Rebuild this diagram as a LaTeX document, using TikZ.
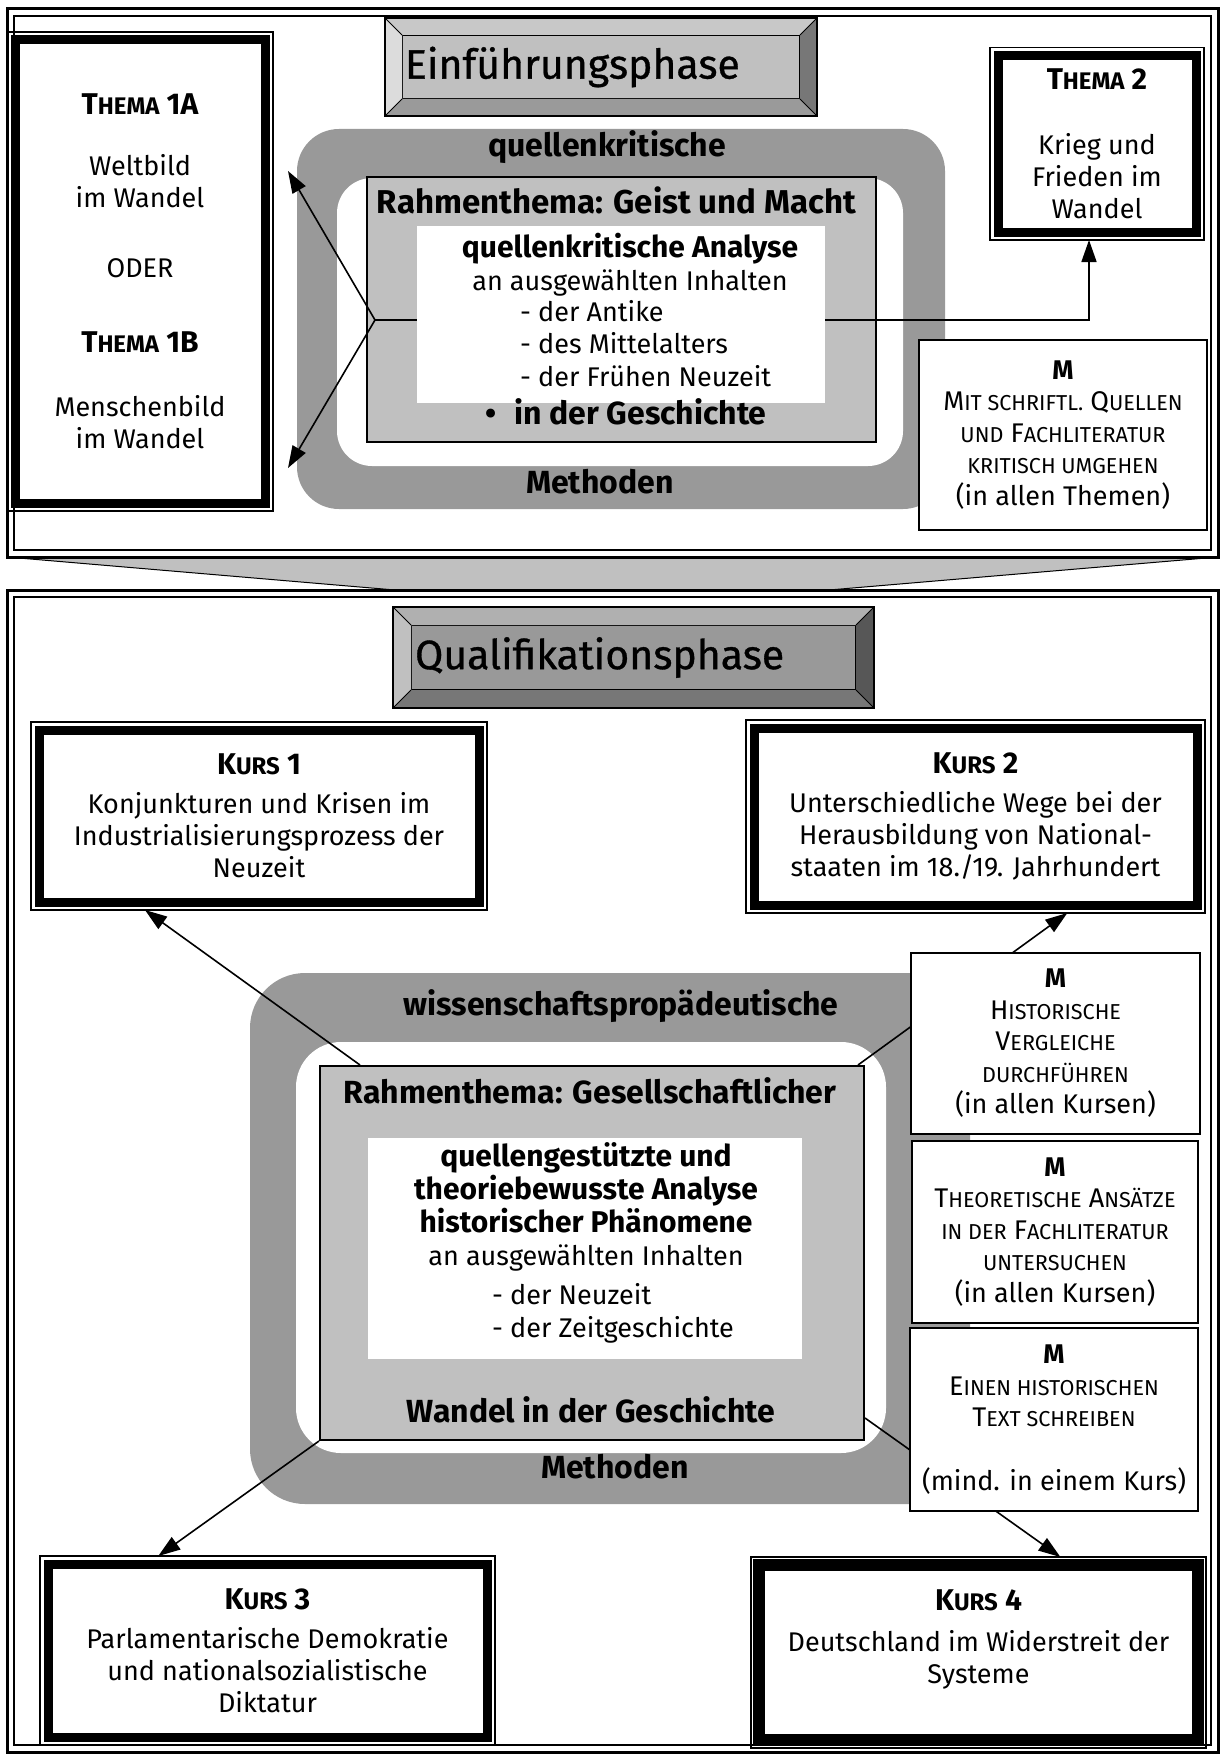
\documentclass[tikz,border=0pt]{standalone}
\usepackage{fontspec}
\setmainfont{Fira Sans}
\newfontfamily\headfont[FakeBold=0.8]{Fira Sans}
\usetikzlibrary{positioning, arrows.meta, calc}
\definecolor{bandgrey}{HTML}{999999}
\definecolor{boxgrey}{HTML}{C0C0C0}
\definecolor{bevlight}{HTML}{DCDCDC}
\definecolor{bevtop}{HTML}{C8C8C8}
\definecolor{bevmid}{HTML}{B0B0B0}
\definecolor{bevlow}{HTML}{9A9A9A}
\definecolor{bevdark}{HTML}{777777}
\definecolor{bevdeep}{HTML}{575757}

% fake small caps
\makeatletter
\newcommand\sk[1]{{\fontsize{\the\dimexpr 0.8\dimexpr\f@size pt\relax\relax}{0pt}\selectfont #1}}
\makeatother

% bevel round a face node: #1 node, #2 depth, #3 top, #4 left, #5 bottom, #6 right
\newcommand\bevelbox[6]{%
  \fill[#3] (#1.north west) -- ++(-#2,-#2) -- ($(#1.north east)+(#2,-#2)$) -- (#1.north east) -- cycle;
  \fill[#4] (#1.north west) -- ++(-#2,-#2) -- ($(#1.south west)+(-#2,#2)$) -- (#1.south west) -- cycle;
  \fill[#5] (#1.south west) -- ++(-#2,#2) -- ($(#1.south east)+(#2,#2)$) -- (#1.south east) -- cycle;
  \fill[#6] (#1.north east) -- ++(#2,-#2) -- ($(#1.south east)+(#2,#2)$) -- (#1.south east) -- cycle;
  \draw[line width=1pt] (#1.north west) -- ++(-#2,-#2) (#1.north east) -- ++(#2,-#2)
    (#1.south west) -- ++(-#2,#2) (#1.south east) -- ++(#2,#2);
  \draw[line width=2pt] ($(#1.north west)+(-#2,-#2)$) rectangle ($(#1.south east)+(#2,#2)$);
}

\tikzset{
  thickbox/.style={draw, line width=9pt, fill=white, outer sep=8pt, align=center,
    font=\fontsize{27}{32}\selectfont},
  mbox/.style={draw, line width=2.5pt, fill=white, align=center,
    font=\fontsize{27}{31.5}\selectfont},
  facebox/.style={draw, line width=2pt, outer sep=0pt, inner xsep=2pt,
    font=\headfont\fontsize{41}{44}\selectfont},
  ring/.style={fill=bandgrey, outer sep=0pt},
  hole/.style={fill=white, outer sep=0pt},
  rahmen/.style={draw, line width=2pt, fill=boxgrey},
  bandtext/.style={inner sep=0pt, anchor=base, font=\fontsize{32}{34}\selectfont\bfseries},
  plain/.style={inner sep=0pt, anchor=base, align=center, font=\fontsize{27}{33}\selectfont},
  listtext/.style={inner sep=0pt, anchor=base west, align=left, font=\fontsize{27}{32.5}\selectfont},
  link/.style={line width=1.6pt},
  arr/.style={line width=1.6pt, -{Triangle[length=22pt,width=15pt]}}
}

\begin{document}
\begin{tikzpicture}[x=1pt, y=-1pt]
  \useasboundingbox (0,0) rectangle (1220,1755);

  % funnel and the two frames
  \fill[boxgrey] (7,557) -- (1218,557) -- (829,590) -- (395,590) -- cycle;
  \draw[line width=1pt] (7,557) -- (395,590) (1218,557) -- (829,590);
  \draw[line width=3pt] (7,9) rectangle (1218,557);
  \draw[line width=1.2pt] (14,16) rectangle (1211,550);
  \draw[line width=3pt] (7,590) rectangle (1218,1752);
  \draw[line width=1.2pt] (14,597) rectangle (1211,1745);

  % headings
  \node[facebox, fill=boxgrey, minimum width=398, minimum height=64] (einf) at (601,67)
    {\makebox[392pt][l]{Einführungsphase}};
  \bevelbox{einf}{17}{bevtop}{bevlight}{bevlow}{bevdark}
  \node[facebox, fill=bandgrey, minimum width=445, minimum height=65] (qual) at (633.5,657.5)
    {\makebox[437pt][l]{Qualifikationsphase}};
  \bevelbox{qual}{18}{bevmid}{boxgrey}{bevdark}{bevdeep}

  % Einfuehrungsphase
  \node[thickbox, minimum width=250, minimum height=463] (th1) at (140,271.5)
    {{\bfseries\fontsize{30}{32}\selectfont T\sk{HEMA} 1A}\\[29pt]
     Weltbild\\im Wandel\\[38pt]
     ODER\\[43pt]
     {\bfseries\fontsize{30}{32}\selectfont T\sk{HEMA} 1B}\\[32pt]
     Menschenbild\\im Wandel};
  \node[thickbox, minimum width=198, minimum height=176.5] (th2) at (1097,143.75)
    {{\bfseries\fontsize{30}{32}\selectfont T\sk{HEMA} 2}\\[32.5pt]
     Krieg und\\Frieden im\\Wandel};

  \node[ring, rounded corners=42pt, minimum width=648, minimum height=380] (ring1) at (621,319) {};
  \node[hole, rounded corners=35pt, minimum width=566, minimum height=288] (hole1) at (620,322) {};
  \node[rahmen, minimum width=509, minimum height=265] (rt1) at (621.5,309.5) {};
  \node[bandtext] (qk1) at (607,157) {quellenkritische};
  \node[bandtext] (meth1) at (600,493) {Methoden};
  \node[bandtext, font=\fontsize{33}{34}\selectfont\bfseries] (rt1t) at (616.5,213)
    {Rahmenthema: Geist und Macht};

  \coordinate (j1) at (375,320);
  \coordinate (tip1a) at (288,171);
  \coordinate (tip1b) at (288,468);
  \draw[arr] (j1) -| ($(th2.south)+(-8,0)$);

  \node[fill=white, minimum width=408, minimum height=177] (inh1) at (621,314.5) {};
  \node[plain] (ana1) at (630,290)
    {{\bfseries\fontsize{30}{33}\selectfont quellenkritische Analyse}\\an ausgewählten Inhalten};
  \node[listtext] (list1) at (520,386)
    {- der Antike\\- des Mittelalters\\- der Frühen Neuzeit};
  \node[bandtext] (ges1) at (626,424) {\textbullet\hspace{18pt}in der Geschichte};

  \draw[arr] (j1) -- (tip1a);
  \draw[arr] (j1) -- (tip1b);

  \node[mbox, minimum width=288, minimum height=190] (mq) at (1063,435)
    {{\bfseries M}\\M\sk{IT SCHRIFTL.} Q\sk{UELLEN}\\\sk{UND} F\sk{ACHLITERATUR}\\
     \sk{KRITISCH UMGEHEN}\\(in allen Themen)};

  % Qualifikationsphase
  \node[thickbox, minimum width=440, minimum height=172] (k1) at (259,816)
    {{\bfseries\fontsize{30}{32}\selectfont K\sk{URS} 1}\\[7pt]
     Konjunkturen und Krisen im\\Industrialisierungsprozess der\\Neuzeit};
  \node[thickbox, minimum width=443, minimum height=177] (k2) at (975.5,816.5)
    {{\bfseries\fontsize{30}{32}\selectfont K\sk{URS} 2}\\[7pt]
     Unterschiedliche Wege bei der\\Herausbildung von National-\\staaten im 18./19. Jahrhundert};
  \node[thickbox, minimum width=439, minimum height=173] (k3) at (267.5,1650.5)
    {{\bfseries\fontsize{30}{32}\selectfont K\sk{URS} 3}\\[7pt]
     Parlamentarische Demokratie\\und nationalsozialistische\\Diktatur};
  \node[thickbox, line width=12pt, minimum width=439, minimum height=175] (k4) at (978.5,1652.5)
    {{\bfseries\fontsize{30}{32}\selectfont K\sk{URS} 4}\\[9pt]
     Deutschland im Widerstreit der\\Systeme\\\mbox{}};
  \foreach \n in {th1,th2,k1,k2,k3,k4}
    \draw[line width=1.5pt] (\n.north west) rectangle (\n.south east);

  \node[ring, rounded corners=55pt, minimum width=720, minimum height=531] (ring2) at (610,1238.5) {};
  \node[hole, rounded corners=45pt, minimum width=590, minimum height=411] (hole2) at (591,1247.5) {};
  \node[rahmen, minimum width=544, minimum height=374] (rt2) at (592,1253) {};
  \node[bandtext] (wiss) at (621,1015) {wissenschaftspropädeutische};
  \node[bandtext] (meth2) at (615,1478) {Methoden};
  \node[bandtext] (rt2t) at (590,1103) {Rahmenthema: Gesellschaftlicher};
  \node[fill=white, minimum width=434, minimum height=221] (inh2) at (585,1248.5) {};
  \node[plain] (ana2) at (586,1265)
    {{\bfseries\fontsize{30}{32}\selectfont quellengestützte und}\\
     {\bfseries\fontsize{30}{32}\selectfont theoriebewusste Analyse}\\
     {\bfseries\fontsize{30}{32}\selectfont historischer Phänomene}\\an ausgewählten Inhalten};
  \node[listtext] (list2) at (492,1337) {- der Neuzeit\\- der Zeitgeschichte};
  \node[bandtext] (wand) at (591,1422) {Wandel in der Geschichte};

  \draw[arr] ($(rt2.north west)+(41,0)$) -- ($(k1.south west)!0.25!(k1.south east)$);
  \draw[arr] ($(rt2.north east)+(-7,0)$) -- ($(k2.south west)!0.7!(k2.south east)$);
  \draw[arr] (rt2.south west) -- ($(k3.north west)!0.26!(k3.north east)$);
  \draw[arr] ($(rt2.south east)+(0,-23)$) -- ($(k4.north west)!0.68!(k4.north east)$);

  \node[mbox, minimum width=289, minimum height=181] (m1) at (1055.5,1043.5)
    {{\bfseries M}\\H\sk{ISTORISCHE}\\V\sk{ERGLEICHE}\\\sk{DURCHFÜHREN}\\(in allen Kursen)};
  \node[mbox, minimum width=286, minimum height=182] (m2) at (1055,1232)
    {{\bfseries M}\\T\sk{HEORETISCHE} A\sk{NSÄTZE}\\\sk{IN DER} F\sk{ACHLITERATUR}\\
     \sk{UNTERSUCHEN}\\(in allen Kursen)};
  \node[mbox, minimum width=288, minimum height=183] (m3) at (1054,1419.5)
    {{\bfseries M}\\E\sk{INEN HISTORISCHEN}\\T\sk{EXT SCHREIBEN}\\[32pt](mind. in einem Kurs)};
\end{tikzpicture}
\end{document}
